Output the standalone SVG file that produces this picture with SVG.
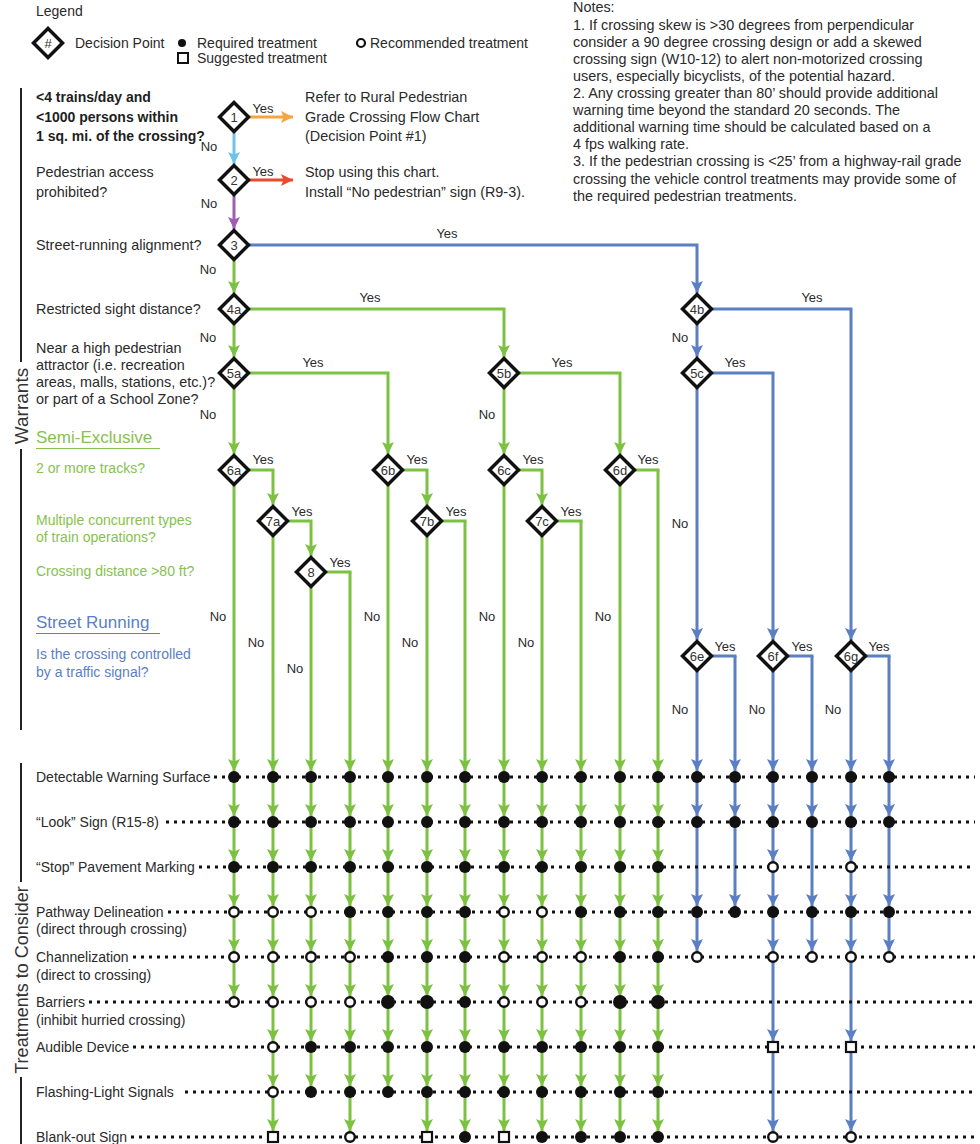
<svg xmlns="http://www.w3.org/2000/svg" xmlns:xlink="http://www.w3.org/1999/xlink" width="980" height="1144" viewBox="0 0 980 1144">
<style>
text{font-family:"Liberation Sans",Arial,sans-serif;font-size:14px;fill:#2a2a2a}
.m{font-size:14.4px}
.b{font-weight:bold;fill:#1e1e1e}
.yn{font-size:13px;text-anchor:middle}
.dl{font-size:13px;text-anchor:middle;fill:#333}
.gt{fill:#86c24f}
.bt{fill:#5b7fc4}
.hd{font-size:17px}
.rot{font-size:19px;text-anchor:middle;fill:#333}
.rot2{font-size:18px;text-anchor:middle;fill:#333}
.g{stroke:#7cc142}
.bl{stroke:#5a7fc2}
.row{stroke:#111;stroke-width:3;stroke-dasharray:3 5;fill:none}
.col{fill:none;stroke-width:3}
</style>
<defs>
<path id="dm" d="M0,-14.5 L14.5,0 L0,14.5 L-14.5,0 Z" fill="#fff" stroke="#111" stroke-width="3.5" stroke-linejoin="miter"/>
<circle id="F" r="6" fill="#111"/>
<circle id="L" r="7" fill="#111"/>
<circle id="O" r="4.8" fill="#fff" stroke="#111" stroke-width="2.4"/>
<rect id="S" x="-5" y="-5" width="10" height="10" fill="#fff" stroke="#111" stroke-width="2.2"/>
<marker id="aG" viewBox="0 -6 12 12" refX="12" refY="0" markerWidth="12" markerHeight="12" markerUnits="userSpaceOnUse" orient="auto"><path d="M0,-6 L12,0 L0,6 L2.5,0 Z" fill="#7cc142"/></marker>
<marker id="aB" viewBox="0 -6 12 12" refX="12" refY="0" markerWidth="12" markerHeight="12" markerUnits="userSpaceOnUse" orient="auto"><path d="M0,-6 L12,0 L0,6 L2.5,0 Z" fill="#5a7fc2"/></marker>
<marker id="aO" viewBox="0 -6 12 12" refX="12" refY="0" markerWidth="12" markerHeight="12" markerUnits="userSpaceOnUse" orient="auto"><path d="M0,-6 L12,0 L0,6 L2.5,0 Z" fill="#f7a541"/></marker>
<marker id="aR" viewBox="0 -6 12 12" refX="12" refY="0" markerWidth="12" markerHeight="12" markerUnits="userSpaceOnUse" orient="auto"><path d="M0,-6 L12,0 L0,6 L2.5,0 Z" fill="#e94b2e"/></marker>
<marker id="aC" viewBox="0 -6 12 12" refX="12" refY="0" markerWidth="12" markerHeight="12" markerUnits="userSpaceOnUse" orient="auto"><path d="M0,-6 L12,0 L0,6 L2.5,0 Z" fill="#6cc5e9"/></marker>
<marker id="aP" viewBox="0 -6 12 12" refX="12" refY="0" markerWidth="12" markerHeight="12" markerUnits="userSpaceOnUse" orient="auto"><path d="M0,-6 L12,0 L0,6 L2.5,0 Z" fill="#9c5fb1"/></marker>
<marker id="mG" viewBox="0 -6 12 12" refX="18" refY="0" markerWidth="12" markerHeight="12" markerUnits="userSpaceOnUse" orient="auto"><path d="M0,-6 L12,0 L0,6 L2.5,0 Z" fill="#7cc142"/></marker>
<marker id="mB" viewBox="0 -6 12 12" refX="18" refY="0" markerWidth="12" markerHeight="12" markerUnits="userSpaceOnUse" orient="auto"><path d="M0,-6 L12,0 L0,6 L2.5,0 Z" fill="#5a7fc2"/></marker>
</defs>
<rect width="980" height="1144" fill="#fff"/>

<g id="legend">
<text x="36" y="16">Legend</text>
<use href="#dm" x="48" y="43"/>
<text class="dl" x="48" y="47.5">#</text>
<text x="75" y="48">Decision Point</text>
<circle cx="182" cy="43" r="4" fill="#111"/>
<text x="197" y="48">Required treatment</text>
<circle cx="361" cy="43" r="4" fill="#fff" stroke="#111" stroke-width="2.2"/>
<text x="370" y="48">Recommended treatment</text>
<rect x="178" y="53" width="10" height="10" fill="#fff" stroke="#111" stroke-width="2"/>
<text x="197" y="63">Suggested treatment</text>
</g>

<g id="notes">
<text class="m" x="573" y="12">Notes:</text>
<text class="m" x="573" y="29.6">1. If crossing skew is &gt;30 degrees from perpendicular</text>
<text class="m" x="573" y="46.7">consider a 90 degree crossing design or add a skewed</text>
<text class="m" x="573" y="63.8">crossing sign (W10-12) to alert non-motorized crossing</text>
<text class="m" x="573" y="80.9">users, especially bicyclists, of the potential hazard.</text>
<text class="m" x="573" y="98">2. Any crossing greater than 80’ should provide additional</text>
<text class="m" x="573" y="115.1">warning time beyond the standard 20 seconds. The</text>
<text class="m" x="573" y="132.2">additional warning time should be calculated based on a</text>
<text class="m" x="573" y="149.3">4 fps walking rate.</text>
<text class="m" x="573" y="166.4">3. If the pedestrian crossing is &lt;25’ from a highway-rail grade</text>
<text class="m" x="573" y="183.5">crossing the vehicle control treatments may provide some of</text>
<text class="m" x="573" y="200.6">the required pedestrian treatments.</text>
</g>

<g id="brackets" stroke="#222" stroke-width="2">
<line x1="21" y1="88" x2="21" y2="362"/>
<line x1="21" y1="449" x2="21" y2="730"/>
<line x1="21" y1="763" x2="21" y2="882"/>
<line x1="21" y1="1077" x2="21" y2="1144"/>
</g>
<text class="rot" transform="translate(28,406) rotate(-90)">Warrants</text>
<text class="rot2" transform="translate(27.5,980) rotate(-90)">Treatments to Consider</text>

<g id="questions">
<text class="b" x="36" y="102">&lt;4 trains/day and</text>
<text class="b" x="36" y="121.5">&lt;1000 persons within</text>
<text class="b" x="36" y="141">1 sq. mi. of the crossing?</text>
<text class="m" x="305" y="102">Refer to Rural Pedestrian</text>
<text class="m" x="305" y="121.5">Grade Crossing Flow Chart</text>
<text class="m" x="305" y="141">(Decision Point #1)</text>
<text class="m" x="36" y="177">Pedestrian access</text>
<text class="m" x="36" y="196.5">prohibited?</text>
<text class="m" x="305" y="177">Stop using this chart.</text>
<text class="m" x="305" y="196.5">Install “No pedestrian” sign (R9-3).</text>
<text class="m" x="36" y="250">Street-running alignment?</text>
<text class="m" x="36" y="314">Restricted sight distance?</text>
<text class="m" x="36" y="353">Near a high pedestrian</text>
<text class="m" x="36" y="370">attractor (i.e. recreation</text>
<text class="m" x="36" y="387">areas, malls, stations, etc.)?</text>
<text class="m" x="36" y="404">or part of a School Zone?</text>
<text class="gt hd" x="36" y="443">Semi-Exclusive</text>
<line x1="36" y1="448.5" x2="160" y2="448.5" stroke="#86c24f" stroke-width="1"/>
<text class="gt" x="36" y="473">2 or more tracks?</text>
<text class="gt" x="36" y="525">Multiple concurrent types</text>
<text class="gt" x="36" y="542">of train operations?</text>
<text class="gt" x="36" y="576">Crossing distance &gt;80 ft?</text>
<text class="bt hd" x="36" y="628">Street Running</text>
<line x1="36" y1="633.5" x2="160" y2="633.5" stroke="#5b7fc4" stroke-width="1"/>
<text class="bt" x="36" y="659">Is the crossing controlled</text>
<text class="bt" x="36" y="677">by a traffic signal?</text>
</g>

<g id="treatment-labels">
<text x="36" y="782">Detectable Warning Surface</text>
<text x="36" y="827">“Look” Sign (R15-8)</text>
<text x="36" y="872">“Stop” Pavement Marking</text>
<text x="36" y="917">Pathway Delineation</text>
<text x="36" y="933.5">(direct through crossing)</text>
<text x="36" y="962">Channelization</text>
<text x="36" y="979.5">(direct to crossing)</text>
<text x="36" y="1007">Barriers</text>
<text x="36" y="1024.5">(inhibit hurried crossing)</text>
<text x="36" y="1052">Audible Device</text>
<text x="36" y="1097">Flashing-Light Signals</text>
<text x="36" y="1142">Blank-out Sign</text>
</g>

<g id="connectors">
<path class="col" stroke="#f7a541" d="M234,117 H293" marker-end="url(#aO)"/>
<path class="col" stroke="#6cc5e9" d="M234,117 V164" marker-end="url(#aC)"/>
<path class="col" stroke="#e94b2e" d="M234,180 H293" marker-end="url(#aR)"/>
<path class="col" stroke="#9c5fb1" d="M234,180 V229" marker-end="url(#aP)"/>
<path class="col bl" d="M234,245 H697 V293" marker-end="url(#aB)"/>
<path class="col g" d="M234,245 V293" marker-end="url(#aG)"/>
<path class="col g" d="M234,309 H504 V357" marker-end="url(#aG)"/>
<path class="col g" d="M234,309 V357" marker-end="url(#aG)"/>
<path class="col g" d="M234,373 H388 V454" marker-end="url(#aG)"/>
<path class="col g" d="M234,373 V454" marker-end="url(#aG)"/>
<path class="col g" d="M504,373 H620 V454" marker-end="url(#aG)"/>
<path class="col g" d="M504,373 V454" marker-end="url(#aG)"/>
<path class="col bl" d="M697,309 H851 V640" marker-end="url(#aB)"/>
<path class="col bl" d="M697,309 V357" marker-end="url(#aB)"/>
<path class="col bl" d="M697,373 H773 V640" marker-end="url(#aB)"/>
<path class="col bl" d="M697,373 V640" marker-end="url(#aB)"/>
<path class="col g" d="M234,470 H273 V505" marker-end="url(#aG)"/>
<path class="col g" d="M273,521 H311 V556" marker-end="url(#aG)"/>
<path class="col g" d="M388,470 H427 V505" marker-end="url(#aG)"/>
<path class="col g" d="M504,470 H542 V505" marker-end="url(#aG)"/>
<path class="col g" d="M311,572 H351.5"/>
<path class="col g" d="M427,521 H466.5"/>
<path class="col g" d="M542,521 H582.5"/>
<path class="col g" d="M620,470 H659.5"/>
<path class="col bl" d="M697,656 H736.5"/>
<path class="col bl" d="M773,656 H813.5"/>
<path class="col bl" d="M851,656 H890.5"/>
<g class="col g" marker-mid="url(#mG)" marker-end="url(#mG)">
<path d="M234,470 V777 V822 V867 V912 V957 V1002"/>
<path d="M273,521 V777 V822 V867 V912 V957 V1002 V1047 V1092 V1137"/>
<path d="M311,572 V777 V822 V867 V912 V957 V1002 V1047 V1092"/>
<path d="M350,572 V777 V822 V867 V912 V957 V1002 V1047 V1092 V1137"/>
<path d="M388,470 V777 V822 V867 V912 V957 V1002 V1047 V1092"/>
<path d="M427,521 V777 V822 V867 V912 V957 V1002 V1047 V1092 V1137"/>
<path d="M465,521 V777 V822 V867 V912 V957 V1002 V1047 V1092 V1137"/>
<path d="M504,470 V777 V822 V867 V912 V957 V1002 V1047 V1092 V1137"/>
<path d="M542,521 V777 V822 V867 V912 V957 V1002 V1047 V1092 V1137"/>
<path d="M581,521 V777 V822 V867 V912 V957 V1002 V1047 V1092 V1137"/>
<path d="M620,470 V777 V822 V867 V912 V957 V1002 V1047 V1092 V1137"/>
<path d="M658,470 V777 V822 V867 V912 V957 V1002 V1047 V1092 V1137"/>
</g>
<g class="col bl" marker-mid="url(#mB)" marker-end="url(#mB)">
<path d="M697,656 V777 V822 V912 V957"/>
<path d="M735,656 V777 V822 V912"/>
<path d="M773,656 V777 V822 V867 V912 V957 V1047 V1137"/>
<path d="M812,656 V777 V822 V912 V957"/>
<path d="M851,656 V777 V822 V867 V912 V957 V1047 V1137"/>
<path d="M889,656 V777 V822 V912 V957"/>
</g>
</g>

<g id="flow-labels">
<text class="yn" x="263" y="112.5">Yes</text>
<text class="yn" x="209" y="150.5">No</text>
<text class="yn" x="263" y="176">Yes</text>
<text class="yn" x="209" y="207.5">No</text>
<text class="yn" x="447" y="237.5">Yes</text>
<text class="yn" x="208" y="273.5">No</text>
<text class="yn" x="370" y="301.5">Yes</text>
<text class="yn" x="208" y="341.5">No</text>
<text class="yn" x="812" y="301.5">Yes</text>
<text class="yn" x="680" y="341.5">No</text>
<text class="yn" x="313" y="366.5">Yes</text>
<text class="yn" x="208" y="418.5">No</text>
<text class="yn" x="562" y="366.5">Yes</text>
<text class="yn" x="487" y="418.5">No</text>
<text class="yn" x="735" y="366.5">Yes</text>
<text class="yn" x="680" y="527.5">No</text>
<text class="yn" x="263" y="463.5">Yes</text>
<text class="yn" x="302" y="515.5">Yes</text>
<text class="yn" x="340" y="566.5">Yes</text>
<text class="yn" x="417" y="463.5">Yes</text>
<text class="yn" x="456" y="515.5">Yes</text>
<text class="yn" x="533" y="463.5">Yes</text>
<text class="yn" x="571" y="515.5">Yes</text>
<text class="yn" x="648" y="463.5">Yes</text>
<text class="yn" x="725" y="650.5">Yes</text>
<text class="yn" x="802" y="650.5">Yes</text>
<text class="yn" x="879" y="650.5">Yes</text>
<text class="yn" x="218" y="620.5">No</text>
<text class="yn" x="256" y="646.5">No</text>
<text class="yn" x="295" y="672.5">No</text>
<text class="yn" x="372" y="620.5">No</text>
<text class="yn" x="410" y="646.5">No</text>
<text class="yn" x="487" y="620.5">No</text>
<text class="yn" x="526" y="646.5">No</text>
<text class="yn" x="603" y="620.5">No</text>
<text class="yn" x="680" y="713.5">No</text>
<text class="yn" x="757" y="713.5">No</text>
<text class="yn" x="833" y="713.5">No</text>
</g>

<g id="rows">
<line class="row" x1="214" y1="777" x2="975" y2="777"/>
<line class="row" x1="166" y1="822" x2="975" y2="822"/>
<line class="row" x1="199" y1="867" x2="975" y2="867"/>
<line class="row" x1="168" y1="912" x2="975" y2="912"/>
<line class="row" x1="133" y1="957" x2="975" y2="957"/>
<line class="row" x1="89" y1="1002" x2="975" y2="1002"/>
<line class="row" x1="133" y1="1047" x2="975" y2="1047"/>
<line class="row" x1="185" y1="1092" x2="975" y2="1092"/>
<line class="row" x1="131" y1="1137" x2="975" y2="1137"/>
</g>

<g id="symbols">
<use href="#F" x="234" y="777"/><use href="#F" x="273" y="777"/><use href="#F" x="311" y="777"/><use href="#F" x="350" y="777"/><use href="#F" x="388" y="777"/><use href="#F" x="427" y="777"/><use href="#F" x="465" y="777"/><use href="#F" x="504" y="777"/><use href="#F" x="542" y="777"/><use href="#F" x="581" y="777"/><use href="#F" x="620" y="777"/><use href="#F" x="658" y="777"/><use href="#F" x="697" y="777"/><use href="#F" x="735" y="777"/><use href="#F" x="773" y="777"/><use href="#F" x="812" y="777"/><use href="#F" x="851" y="777"/><use href="#F" x="889" y="777"/>
<use href="#F" x="234" y="822"/><use href="#F" x="273" y="822"/><use href="#F" x="311" y="822"/><use href="#F" x="350" y="822"/><use href="#F" x="388" y="822"/><use href="#F" x="427" y="822"/><use href="#F" x="465" y="822"/><use href="#F" x="504" y="822"/><use href="#F" x="542" y="822"/><use href="#F" x="581" y="822"/><use href="#F" x="620" y="822"/><use href="#F" x="658" y="822"/><use href="#F" x="697" y="822"/><use href="#F" x="735" y="822"/><use href="#F" x="773" y="822"/><use href="#F" x="812" y="822"/><use href="#F" x="851" y="822"/><use href="#F" x="889" y="822"/>
<use href="#F" x="234" y="867"/><use href="#F" x="273" y="867"/><use href="#F" x="311" y="867"/><use href="#F" x="350" y="867"/><use href="#F" x="388" y="867"/><use href="#F" x="427" y="867"/><use href="#F" x="465" y="867"/><use href="#F" x="504" y="867"/><use href="#F" x="542" y="867"/><use href="#F" x="581" y="867"/><use href="#F" x="620" y="867"/><use href="#F" x="658" y="867"/><use href="#O" x="773" y="867"/><use href="#O" x="851" y="867"/>
<use href="#O" x="234" y="912"/><use href="#O" x="273" y="912"/><use href="#O" x="311" y="912"/><use href="#F" x="350" y="912"/><use href="#F" x="388" y="912"/><use href="#F" x="427" y="912"/><use href="#F" x="465" y="912"/><use href="#O" x="504" y="912"/><use href="#O" x="542" y="912"/><use href="#F" x="581" y="912"/><use href="#F" x="620" y="912"/><use href="#F" x="658" y="912"/><use href="#F" x="697" y="912"/><use href="#F" x="735" y="912"/><use href="#F" x="773" y="912"/><use href="#F" x="812" y="912"/><use href="#F" x="851" y="912"/><use href="#F" x="889" y="912"/>
<use href="#O" x="234" y="957"/><use href="#O" x="273" y="957"/><use href="#O" x="311" y="957"/><use href="#O" x="350" y="957"/><use href="#F" x="388" y="957"/><use href="#F" x="427" y="957"/><use href="#F" x="465" y="957"/><use href="#O" x="504" y="957"/><use href="#O" x="542" y="957"/><use href="#O" x="581" y="957"/><use href="#F" x="620" y="957"/><use href="#F" x="658" y="957"/><use href="#O" x="697" y="957"/><use href="#O" x="773" y="957"/><use href="#O" x="812" y="957"/><use href="#O" x="851" y="957"/><use href="#O" x="889" y="957"/>
<use href="#O" x="234" y="1002"/><use href="#O" x="273" y="1002"/><use href="#O" x="311" y="1002"/><use href="#O" x="350" y="1002"/><use href="#L" x="388" y="1002"/><use href="#L" x="427" y="1002"/><use href="#F" x="465" y="1002"/><use href="#O" x="504" y="1002"/><use href="#O" x="542" y="1002"/><use href="#O" x="581" y="1002"/><use href="#L" x="620" y="1002"/><use href="#L" x="658" y="1002"/>
<use href="#O" x="273" y="1047"/><use href="#F" x="311" y="1047"/><use href="#F" x="350" y="1047"/><use href="#F" x="388" y="1047"/><use href="#F" x="427" y="1047"/><use href="#F" x="465" y="1047"/><use href="#F" x="504" y="1047"/><use href="#F" x="542" y="1047"/><use href="#F" x="581" y="1047"/><use href="#F" x="620" y="1047"/><use href="#F" x="658" y="1047"/><use href="#S" x="773" y="1047"/><use href="#S" x="851" y="1047"/>
<use href="#O" x="273" y="1092"/><use href="#F" x="311" y="1092"/><use href="#F" x="350" y="1092"/><use href="#F" x="388" y="1092"/><use href="#F" x="427" y="1092"/><use href="#F" x="465" y="1092"/><use href="#F" x="504" y="1092"/><use href="#F" x="542" y="1092"/><use href="#F" x="581" y="1092"/><use href="#F" x="620" y="1092"/><use href="#F" x="658" y="1092"/>
<use href="#S" x="273" y="1137"/><use href="#O" x="350" y="1137"/><use href="#S" x="427" y="1137"/><use href="#F" x="465" y="1137"/><use href="#S" x="504" y="1137"/><use href="#F" x="542" y="1137"/><use href="#F" x="581" y="1137"/><use href="#F" x="620" y="1137"/><use href="#F" x="658" y="1137"/><use href="#O" x="773" y="1137"/><use href="#O" x="851" y="1137"/>
</g>

<g id="n1"><use href="#dm" x="234" y="117"/><text class="dl" x="234" y="121.5">1</text></g>
<g id="n2"><use href="#dm" x="234" y="180"/><text class="dl" x="234" y="184.5">2</text></g>
<g id="n3"><use href="#dm" x="234" y="245"/><text class="dl" x="234" y="249.5">3</text></g>
<g id="n4a"><use href="#dm" x="234" y="309"/><text class="dl" x="234" y="313.5">4a</text></g>
<g id="n5a"><use href="#dm" x="234" y="373"/><text class="dl" x="234" y="377.5">5a</text></g>
<g id="n5b"><use href="#dm" x="504" y="373"/><text class="dl" x="504" y="377.5">5b</text></g>
<g id="n4b"><use href="#dm" x="697" y="309"/><text class="dl" x="697" y="313.5">4b</text></g>
<g id="n5c"><use href="#dm" x="697" y="373"/><text class="dl" x="697" y="377.5">5c</text></g>
<g id="n6a"><use href="#dm" x="234" y="470"/><text class="dl" x="234" y="474.5">6a</text></g>
<g id="n7a"><use href="#dm" x="273" y="521"/><text class="dl" x="273" y="525.5">7a</text></g>
<g id="n8"><use href="#dm" x="311" y="572"/><text class="dl" x="311" y="576.5">8</text></g>
<g id="n6b"><use href="#dm" x="388" y="470"/><text class="dl" x="388" y="474.5">6b</text></g>
<g id="n7b"><use href="#dm" x="427" y="521"/><text class="dl" x="427" y="525.5">7b</text></g>
<g id="n6c"><use href="#dm" x="504" y="470"/><text class="dl" x="504" y="474.5">6c</text></g>
<g id="n7c"><use href="#dm" x="542" y="521"/><text class="dl" x="542" y="525.5">7c</text></g>
<g id="n6d"><use href="#dm" x="620" y="470"/><text class="dl" x="620" y="474.5">6d</text></g>
<g id="n6e"><use href="#dm" x="697" y="656"/><text class="dl" x="697" y="660.5">6e</text></g>
<g id="n6f"><use href="#dm" x="773" y="656"/><text class="dl" x="773" y="660.5">6f</text></g>
<g id="n6g"><use href="#dm" x="851" y="656"/><text class="dl" x="851" y="660.5">6g</text></g>
</svg>
